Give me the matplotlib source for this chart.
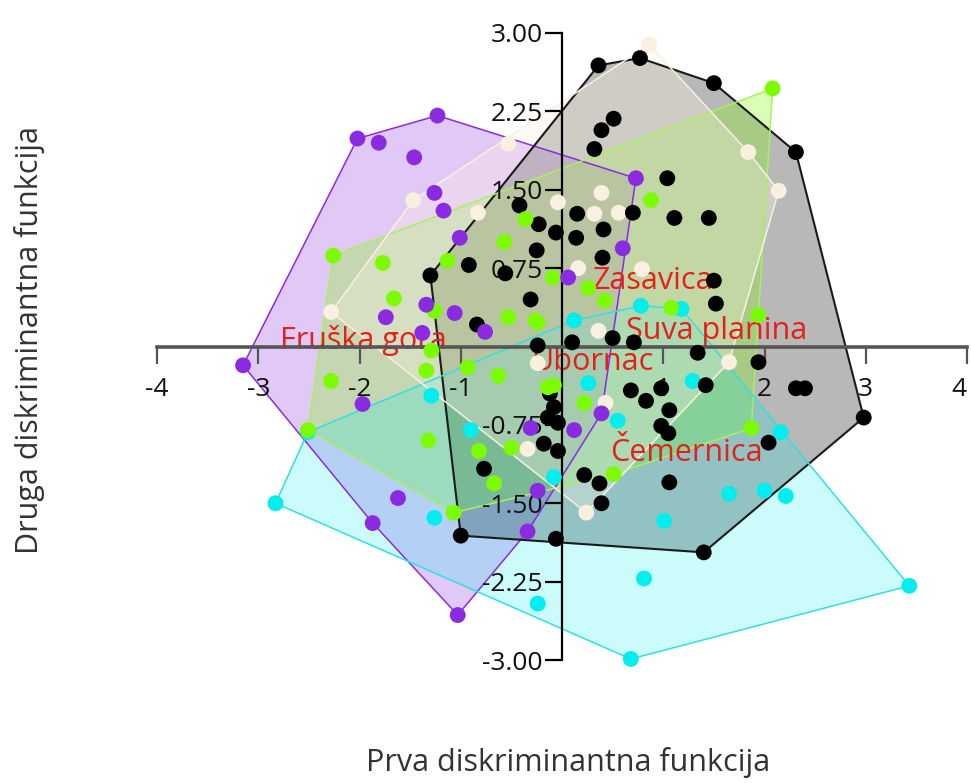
import matplotlib
matplotlib.use("Agg")
from matplotlib import pyplot as plt
import matplotlib.ticker as ticker

plt.rcParams['font.family'] = ['Open Sans', 'DejaVu Sans']

# discriminant scores per locality (first function, second function)
purple_x = [-3.15, -2.02, -1.81, -1.23, -1.46, -1.26, -1.17, -1.01, 0.73, 0.60, 0.06, -1.34, -1.74,
            -1.06, -1.38, -0.76, -1.97, -1.87, -1.62, -1.03, -0.34, -0.24, -0.31, 0.12, 0.39]
purple_y = [-0.18, 1.99, 1.95, 2.21, 1.81, 1.47, 1.30, 1.04, 1.61, 0.94, 0.66, 0.40, 0.28,
            0.32, 0.13, 0.14, -0.55, -1.69, -1.45, -2.57, -1.77, -1.38, -0.78, -0.80, -0.64]

black_x = [0.36, 0.77, 1.50, 2.31, 2.98, 1.40, -0.06, -1.00, -1.30, -0.42, -0.23, -0.06, -0.25, -0.92,
           -0.56, -0.31, -0.84, -0.24, 0.51, 0.39, 0.32, 1.04, 0.70, 1.11, 1.45, 0.15, 0.41, 0.14,
           0.40, 1.50, 1.52, 0.10, 0.50, 0.71, 1.34, 1.94, 0.68, 0.83, 0.98, 1.42, 1.06, 0.98,
           1.05, 2.04, 0.22, 0.37, 1.06, 0.39, -0.08, -0.14, -0.04, -0.18, -0.04, -0.77, 2.31,
           2.40, -0.12]
black_y = [2.69, 2.76, 2.52, 1.86, -0.68, -1.97, -1.84, -1.81, 0.68, 1.35, 1.17, 1.09, 0.92, 0.78,
           0.70, 0.45, 0.21, 0.01, 2.18, 2.07, 1.89, 1.61, 1.28, 1.23, 1.23, 1.27, 1.12, 1.04,
           0.85, 0.63, 0.41, 0.04, 0.08, 0.04, -0.06, -0.15, -0.42, -0.52, -0.40, -0.37, -0.61, -0.76,
           -0.83, -0.92, -1.23, -1.31, -1.30, -1.50, -0.58, -0.68, -0.73, -0.93, -1.00, -1.17, -0.40,
           -0.40, -0.45]

green_x = [2.08, -2.26, -2.51, -1.07, 0.51, 1.87, -1.77, -1.66, -0.57, -1.13, -0.36, -1.26, -0.53,
           -0.24, -1.29, -2.28, -1.32, -0.93, -0.63, -0.14, -0.82, -0.67, -0.50, -1.34, -0.08, 0.22,
           -0.09, -0.26, 0.26, 0.88, 0.42, 1.08, 1.94]
green_y = [2.47, 0.87, -0.80, -1.59, -1.22, -0.78, 0.80, 0.46, 1.00, 0.82, 1.22, 0.34, 0.28,
           0.23, -0.04, -0.33, -0.90, -0.20, -0.28, -0.39, -1.00, -1.31, -0.97, -0.23, -0.37, -0.54,
           0.66, 0.25, 0.56, 1.40, 0.44, 0.37, 0.30]

cyan_x = [-2.83, -2.51, -1.29, -0.90, -1.26, -0.08, -0.24, 0.55, 0.26, 1.29, 1.65, 2.00, 2.21,
          1.01, 0.81, 0.68, 3.43, 2.16, 1.18, 0.78, 0.12]
cyan_y = [-1.50, -0.82, -0.47, -0.80, -1.64, -1.25, -2.46, -0.71, -0.35, -0.33, -1.41, -1.38, -1.43,
          -1.67, -2.22, -2.99, -2.29, -0.82, 0.36, 0.39, 0.25]

cream_x = [0.86, 1.84, 2.14, 1.65, 0.24, -2.28, -1.47, -0.53, -0.83, 0.39, -0.04, 0.32, 0.56,
           0.16, 0.79, 0.36, 0.43, -0.34, -0.24]
cream_y = [2.89, 1.86, 1.49, -0.15, -1.59, 0.33, 1.40, 1.94, 1.28, 1.47, 1.38, 1.27, 1.28,
           0.75, 0.74, 0.15, -0.54, -0.98, -0.16]

group_names = ["Fruška gora", "Zasavica", "Suva planina", "Ubornac", "Čemernica"]
name_x = [-1.96, 0.90, 1.53, 0.30, 1.23]
name_y = [0.06, 0.63, 0.15, -0.15, -1.02]

xticks = [-4, -3, -2, -1, 1, 2, 3, 4]
yticks = [-3.0, -2.25, -1.5, -0.75, 0.75, 1.5, 2.25, 3.0]


# convex hull (monotone chain)
def convex_hull(xs, ys):
    pts = sorted(set(zip(xs, ys)))

    def cross(o, a, b):
        return (a[0]-o[0])*(b[1]-o[1]) - (a[1]-o[1])*(b[0]-o[0])
    lower = []
    for p in pts:
        while len(lower) >= 2 and cross(lower[-2], lower[-1], p) <= 0:
            lower.pop()
        lower.append(p)
    upper = []
    for p in reversed(pts):
        while len(upper) >= 2 and cross(upper[-2], upper[-1], p) <= 0:
            upper.pop()
        upper.append(p)
    return lower[:-1] + upper[:-1]


groups = [
    (purple_x, purple_y, "#8a2be2", "#8a2be2", 0.25, 1.1),
    (black_x, black_y, "#000000", "#1a1a1a", 0.28, 1.5),
    (green_x, green_y, "#7cfc00", "#a8f060", 0.28, 1.1),
    (cyan_x, cyan_y, "#00eeee", "#30e0e0", 0.20, 1.1),
    (cream_x, cream_y, "#faf0e0", "#f8f0e2", 0.35, 1.1),
]

fig = plt.figure(figsize=(9.71, 7.83), dpi=100)
ax = fig.add_axes([157/971, 123/783, 810/971, 627/783])
ax.set_xlim(-4, 4)
ax.set_ylim(-3, 3)

for xs, ys, col, lcol, alpha, lw in groups:
    h = convex_hull(xs, ys)
    hx = [p[0] for p in h]
    hy = [p[1] for p in h]
    ax.fill(hx, hy, color=col, alpha=alpha, lw=0, zorder=1)
    ax.plot(hx + [hx[0]], hy + [hy[0]], color=lcol, lw=lw, zorder=1.5, clip_on=False)

for i in range(len(group_names)):
    ax.text(name_x[i], name_y[i], group_names[i], color="#e3201b", fontsize=22,
            ha="center", va="center", zorder=2.4)

for xs, ys, col, lcol, alpha, lw in [groups[3], groups[4], groups[1], groups[2], groups[0]]:
    ax.scatter(xs, ys, s=130, color=col, edgecolors="none", zorder=3, clip_on=False)

for s in ["top", "right"]:
    ax.spines[s].set_visible(False)
ax.spines["left"].set_position(("data", 0))
ax.spines["bottom"].set_position(("data", 0))
ax.spines["left"].set_linewidth(1.6)
ax.spines["left"].set_color("#000000")
ax.spines["bottom"].set_linewidth(2.6)
ax.spines["bottom"].set_color("#555555")

ax.xaxis.set_major_locator(ticker.FixedLocator(xticks))
ax.yaxis.set_major_locator(ticker.FixedLocator(yticks))
ax.yaxis.set_major_formatter(ticker.FormatStrFormatter("%.2f"))
ax.xaxis.set_major_formatter(ticker.FormatStrFormatter("%d"))
ax.tick_params(axis="x", direction="out", length=12, width=1.6, pad=10, labelsize=19, colors="#555555",
               labelcolor="#111111")
ax.tick_params(axis="y", direction="out", length=12, width=1.6, pad=2, labelsize=19, labelcolor="#111111")

# keep the last x label inside the figure
fig.canvas.draw()
ax.get_xticklabels()[-1].set_ha("right")

fig.text(568/971, 1 - 763/783, "Prva diskriminantna funkcija", ha="center", va="center",
         fontsize=22, color="#333333")
fig.text(30/971, 1 - 340/783, "Druga diskriminantna funkcija", ha="center", va="center",
         fontsize=22, color="#333333", rotation=90)

fig.savefig("out.png", dpi=100)
